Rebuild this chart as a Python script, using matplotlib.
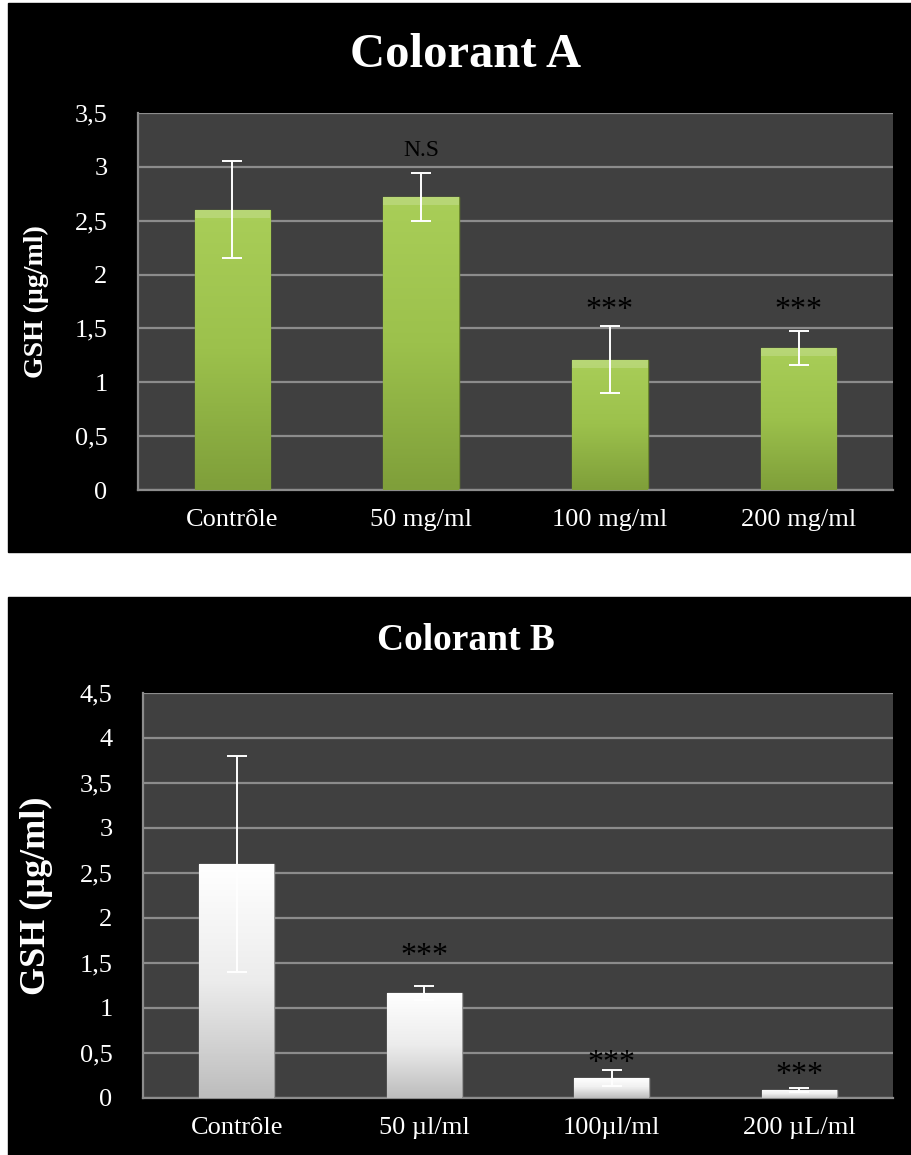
import matplotlib
matplotlib.use("Agg")
import matplotlib.pyplot as plt
import numpy as np
from matplotlib.patches import Rectangle
from matplotlib.colors import LinearSegmentedColormap

plt.rcParams['font.family'] = ['Liberation Serif', 'DejaVu Serif']

# données
cats_a = ['Contrôle', '50 mg/ml', '100 mg/ml', '200 mg/ml']
gsh_a = [2.6, 2.72, 1.21, 1.32]
err_a = [0.45, 0.22, 0.31, 0.16]
sig_a = ['', 'N.S', '***', '***']
sig_y_a = [0, 3.15, 1.67, 1.67]   # hauteur des annotations

cats_b = ['Contrôle', '50 µl/ml', '100µl/ml', '200 µL/ml']
gsh_b = [2.6, 1.17, 0.22, 0.09]
err_b = [1.2, 0.08, 0.09, 0.02]
sig_b = ['', '***', '***', '***']
sig_y_b = [0, 1.57, 0.38, 0.25]

fig = plt.figure(figsize=(9.11, 11.55), dpi=100)
fig.patch.set_facecolor('white')

# panneaux noirs
fig.patches.append(Rectangle((8/911, 1-552/1155), 903/911, 549/1155,
                             transform=fig.transFigure, color='black', zorder=-10))
fig.patches.append(Rectangle((8/911, 0), 903/911, 1-597/1155,
                             transform=fig.transFigure, color='black', zorder=-10))

green = LinearSegmentedColormap.from_list('g', ['#7f9f3a', '#9cc14c', '#a9ce58'])
white = LinearSegmentedColormap.from_list('w', ['#bdbdbd', '#ececec', '#ffffff'])


def draw(ax, cats, vals, errs, sigs, sig_y, ymax, cmap, edge, ysize):
    ax.set_facecolor('#404040')
    x = np.arange(len(cats))
    bars = ax.bar(x, vals, width=0.4, color=cmap(0.7), edgecolor=edge, linewidth=1, zorder=2)
    grad = np.linspace(0, 1, 100).reshape(-1, 1)
    for b in bars:
        x0, w, h = b.get_x(), b.get_width(), b.get_height()
        im = ax.imshow(grad, cmap=cmap, aspect='auto', origin='lower',
                       extent=(x0, x0 + w, 0, h), zorder=3)
        im.set_clip_path(b)
        # biseau clair en haut
        ax.add_patch(Rectangle((x0, h - 0.022 * ymax), w, 0.022 * ymax,
                               color='white', alpha=0.18, lw=0, zorder=4))
    ax.errorbar(x, vals, yerr=errs, fmt='none', ecolor='white', elinewidth=1.4,
                capsize=7.5, capthick=1.4, zorder=5)
    for xi, yy, s in zip(x, sig_y, sigs):
        if s == 'N.S':
            ax.text(xi, yy, s, ha='center', va='center', color='black',
                    fontsize=17, zorder=6)
        elif s:
            ax.text(xi, yy, s, ha='center', va='center', color='black',
                    fontsize=23, zorder=6)
    ax.set_xlim(-0.5, len(cats) - 0.5)
    ax.set_ylim(0, ymax)
    ticks = np.arange(0, ymax + 0.01, 0.5)
    ax.set_yticks(ticks)
    ax.set_yticklabels([('%g' % t).replace('.', ',') for t in ticks])
    ax.set_xticks(x)
    ax.set_xticklabels(cats)
    ax.tick_params(colors='white', labelsize=19, length=0, pad=14)
    ax.tick_params(axis='y', pad=22)
    ax.yaxis.grid(True, color='#8c8c8c', lw=1.6, zorder=0)
    ax.set_axisbelow(True)
    for s in ['top', 'right']:
        ax.spines[s].set_visible(False)
    for s in ['left', 'bottom']:
        ax.spines[s].set_color('#8c8c8c')
        ax.spines[s].set_linewidth(1.6)
    ax.set_ylabel('GSH (µg/ml)', color='white', fontweight='bold', fontsize=ysize)
    return ax


ax1 = fig.add_axes([138/911, 1-490/1155, 755/911, 377/1155])
draw(ax1, cats_a, gsh_a, err_a, sig_a, sig_y_a, 3.5, green, '#6d8a2e', 20)
ax1.yaxis.set_label_coords(-0.118, 0.5)
fig.text(466/911, 1-55/1155, 'Colorant A', ha='center', va='center',
         color='white', fontsize=35, fontweight='bold')

ax2 = fig.add_axes([143/911, 1-1098/1155, 750/911, 405/1155])
draw(ax2, cats_b, gsh_b, err_b, sig_b, sig_y_b, 4.5, white, '#9a9a9a', 26)
ax2.yaxis.set_label_coords(-0.12, 0.5)
fig.text(466/911, 1-641/1155, 'Colorant B', ha='center', va='center',
         color='white', fontsize=27, fontweight='bold')

fig.savefig('out.png', dpi=100)
